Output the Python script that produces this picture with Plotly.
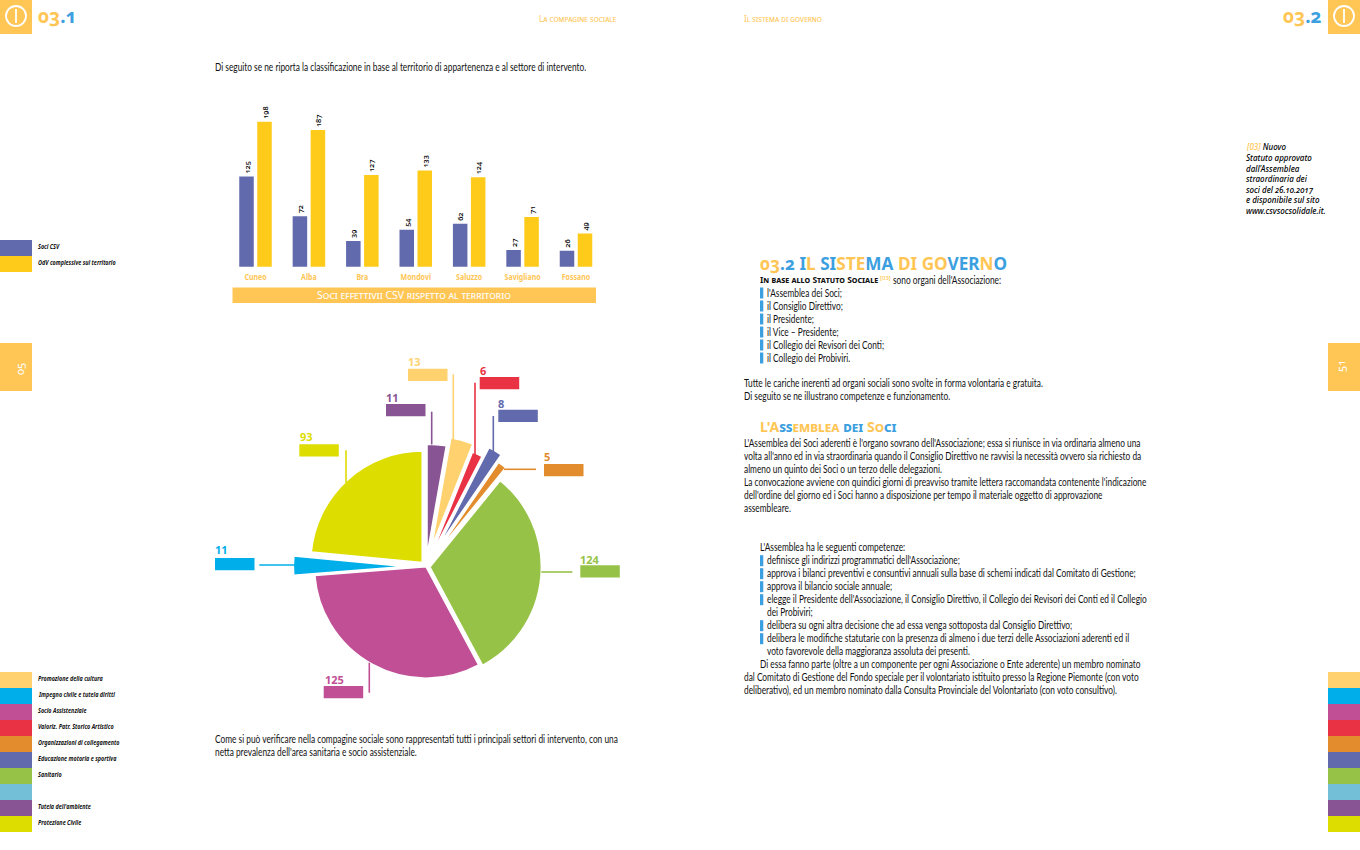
import plotly.graph_objects as go

W, H = 1360, 850
ORANGE = "#ffc656"
SKY = "#3c9fdf"
BODY_FONT = "Lato, sans-serif"
HEAD_FONT = "Noto Sans, sans-serif"
OLD = "font-variant-numeric:oldstyle-nums"

# ---- data ----
territories = ["Cuneo", "Alba", "Bra", "Mondovì", "Saluzzo", "Savigliano", "Fossano"]
soci_csv = [125, 72, 39, 54, 62, 27, 26]
odv_totali = [198, 187, 127, 133, 124, 71, 49]
bar_legend = ["Soci CSV", "OdV complessive sul territorio"]
bar_colors = ["#626aae", "#ffcb1a"]

sector_names = ["Tutela dell'ambiente", "Promozione della cultura", "Valoriz. Patr. Storico Artistico",
                "Educazione motoria e sportiva", "Organizzazioni di collegamento", "Sanitario",
                "Socio Assistenziale", "Impegno civile e tutela diritti", "Protezione Civile"]
sector_values = [11, 13, 6, 8, 5, 124, 125, 11, 93]
sector_colors = ["#895493", "#ffd26f", "#e93244", "#626aae", "#e28c2d", "#96c347", "#c14f96", "#00afe9", "#dedd00"]
sector_pull = [0.10, 0.18, 0.11, 0.21, 0.14, 0.035, 0.0, 0.19, 0.05]

legend_labels = ["Promozione della cultura", "Impegno civile e tutela diritti", "Socio Assistenziale",
                 "Valoriz. Patr. Storico Artistico", "Organizzazioni di collegamento",
                 "Educazione motoria e sportiva", "Sanitario", "", "Tutela dell'ambiente", "Protezione Civile"]
legend_colors = ["#ffd26f", "#00afe9", "#c14f96", "#e93244", "#e28c2d", "#626aae", "#96c347", "#74bfd8", "#895493", "#dedd00"]

# pie call-outs: label x, label y, box x, box y, line (x0, y0, x1, y1)
callouts = [
    (392.7, 397.3, 386, 404, (431.7, 411.7, 431.7, 444.5)),
    (414.3, 361, 408, 368.7, (453.3, 374.3, 453.3, 439.5)),
    (483.3, 370, 479.7, 377, (475, 382.7, 475, 455)),
    (501.3, 403, 498.3, 409.7, (493.3, 416, 493.3, 453.3)),
    (547.3, 457, 544, 464, (504, 469.3, 536, 469.3)),
    (590, 559.3, 580.3, 565.3, (541.3, 572, 572.3, 572)),
    (334, 679, 323.7, 686, (369.3, 662.7, 369.3, 692.7)),
    (221, 549.3, 215, 558, (259.3, 565, 295.7, 565)),
    (306, 436, 299.3, 444.3, (346, 450.3, 346, 482.7)),
]

body_left = [
    (215, 67, "Di seguito se ne riporta la classificazione in base al territorio di appartenenza e al settore di intervento."),
    (215, 739, "Come si può verificare nella compagine sociale sono rappresentati tutti i principali settori di intervento, con una"),
    (215, 752, "netta prevalenza dell'area sanitaria e socio assistenziale."),
]
body_right = [
    (744, 383.5, "Tutte le cariche inerenti ad organi sociali sono svolte in forma volontaria e gratuita."),
    (744, 396.5, "Di seguito se ne illustrano competenze e funzionamento."),
    (744, 443.5, "L'Assemblea dei Soci aderenti è l'organo sovrano dell'Associazione; essa si riunisce in via ordinaria almeno una"),
    (744, 456.5, "volta all'anno ed in via straordinaria quando il Consiglio Direttivo ne ravvisi la necessità ovvero sia richiesto da"),
    (744, 469.5, "almeno un quinto dei Soci o un terzo delle delegazioni."),
    (744, 482.5, "La convocazione avviene con quindici giorni di preavviso tramite lettera raccomandata contenente l'indicazione"),
    (744, 495.5, "dell'ordine del giorno ed i Soci hanno a disposizione per tempo il materiale oggetto di approvazione"),
    (744, 508.5, "assembleare."),
    (760, 547.7, "L'Assemblea ha le seguenti competenze:"),
    (767, 612.7, "dei Probiviri;"),
    (767, 651.7, "voto favorevole della maggioranza assoluta dei presenti."),
    (760, 664.7, "Di essa fanno parte (oltre a un componente per ogni Associazione o Ente aderente) un membro nominato"),
    (744, 677.7, "dal Comitato di Gestione del Fondo speciale per il volontariato istituito presso la Regione Piemonte (con voto"),
    (744, 690.7, "deliberativo), ed un membro nominato dalla Consulta Provinciale del Volontariato (con voto consultivo)."),
    (893, 280, "sono organi dell'Associazione:"),
]
bullets = [
    (293, "l'Assemblea dei Soci;"), (306, "il Consiglio Direttivo;"), (319, "il Presidente;"),
    (332, "il Vice – Presidente;"), (345, "il Collegio dei Revisori dei Conti;"), (358, "il Collegio dei Probiviri."),
    (560.7, "definisce gli indirizzi programmatici dell'Associazione;"),
    (573.7, "approva i bilanci preventivi e consuntivi annuali sulla base di schemi indicati dal Comitato di Gestione;"),
    (586.7, "approva il bilancio sociale annuale;"),
    (599.7, "elegge il Presidente dell'Associazione, il Consiglio Direttivo, il Collegio dei Revisori dei Conti ed il Collegio"),
    (625.7, "delibera su ogni altra decisione che ad essa venga sottoposta dal Consiglio Direttivo;"),
    (638.7, "delibera le modifiche statutarie con la presenza di almeno i due terzi delle Associazioni aderenti ed il"),
]
note_lines = ["<span style='color:#ffc656'>[03]</span> Nuovo", "Statuto approvato", "dall'Assemblea", "straordinaria dei",
              f"soci del <span style='{OLD}'>26.10.2017</span>", "e disponibile sul sito", "www.csvsocsolidale.it."]
note_y = [146.7, 157, 168, 178.5, 189, 199, 210]


def px(x):
    return x / W


def py(y):
    return 1 - y / H


shapes, annotations = [], []


def rect(x0, y0, x1, y1, color):
    shapes.append(dict(type="rect", xref="paper", yref="paper", x0=px(x0), x1=px(x1), y0=py(y0), y1=py(y1),
                       fillcolor=color, line_width=0, layer="below"))


def seg(x0, y0, x1, y1, color, width=1.5):
    shapes.append(dict(type="line", xref="paper", yref="paper", x0=px(x0), x1=px(x1), y0=py(y0), y1=py(y1),
                       line=dict(color=color, width=width)))


def txt(x, y, text, size=10, color="#111111", family=BODY_FONT, anchor="left", angle=0, **font):
    annotations.append(dict(xref="paper", yref="paper", x=px(x), y=py(y), text=text, showarrow=False,
                            xanchor=anchor, yanchor="middle", borderpad=0, borderwidth=0, textangle=angle,
                            font=dict(size=size, color=color, family=family, **font)))


def cspan(pairs):
    return "".join(f"<span style='color:{c};{OLD}'>{t}</span>" for t, c in pairs)


# ---- page furniture ----
for x0 in (0, 1328):
    rect(x0, 0, x0 + 32, 34, ORANGE)
    rect(x0, 343, x0 + 32, 391, ORANGE)
    cx = x0 + 16
    shapes.append(dict(type="circle", xref="paper", yref="paper", x0=px(cx - 10), x1=px(cx + 10),
                       y0=py(26), y1=py(6), line=dict(color="white", width=1.8)))
    seg(cx, 9, cx, 23, "white", 1.8)
    for i, c in enumerate(legend_colors):
        rect(x0, 672 + 16 * i, x0 + 32, 688 + 16 * i, c)
txt(19, 369, f"<span style='{OLD}'>05</span>", 11, "white", HEAD_FONT, "center", -90)
txt(1340, 366, f"<span style='{OLD}'>51</span>", 11, "white", HEAD_FONT, "center", -90)

txt(38, 16, cspan([("03", ORANGE), (".1", SKY)]), 19, family=HEAD_FONT, weight="bold")
txt(1322, 16, cspan([("03", ORANGE), (".2", SKY)]), 19, family=HEAD_FONT, anchor="right", weight="bold")
txt(539, 19, "La compagine sociale", 8, ORANGE, HEAD_FONT, variant="small-caps")
txt(744, 19, "Il sistema di governo", 8, ORANGE, HEAD_FONT, variant="small-caps")

# ---- legends ----
for i, (lab, c) in enumerate(zip(bar_legend, bar_colors)):
    rect(0, 240 + 16 * i, 32, 256 + 16 * i, c)
    txt(38, 246.5 + 16 * i, lab, 6.5, "#111111", HEAD_FONT, style="italic", weight="bold")
for i, lab in enumerate(legend_labels):
    if lab:
        txt(38, 678.5 + 16 * i, lab, 6.5, "#111111", HEAD_FONT, style="italic", weight="bold")

# ---- banner ----
rect(232.5, 287.5, 596, 303, ORANGE)
txt(414, 295, "Soci effettivii CSV rispetto al territorio", 10.5, "white", HEAD_FONT, "center", variant="small-caps")

# ---- pie call-outs ----
for (lx, ly, bx, by, ln), v, c in zip(callouts, sector_values, sector_colors):
    rect(bx, by, bx + 39.5, by + 12.3, c)
    seg(*ln, c, 1.6)
    txt(lx, ly, str(v), 11, c, HEAD_FONT, "center", weight="bold")

# ---- body text ----
for x, y, t in body_left + body_right:
    txt(x, y - 0.8, t, 10.8)
for y, t in bullets:
    rect(760, y - 5.5, 763.3, y + 5.5, SKY)
    txt(767, y - 0.8, t, 10.8)

txt(760, 264, cspan([("03", ORANGE), (".2 ", SKY), ("I", SKY), ("L ", ORANGE), ("SI", SKY), ("STE", ORANGE), ("MA ", SKY),
                     ("DI GO", ORANGE), ("VER", SKY), ("N", ORANGE), ("O", SKY)]),
    17.2, family=HEAD_FONT, weight="bold")
txt(760, 280, "In base allo Statuto Sociale", 8.5, "#111111", HEAD_FONT, variant="small-caps", weight="bold")
txt(880, 278, "[03]", 6, "#ffb92e", HEAD_FONT)
txt(760, 426.5, cspan([("L'A", ORANGE), ("ss", SKY), ("emblea ", ORANGE), ("dei ", SKY), ("So", ORANGE), ("ci", SKY)]),
    14, family=HEAD_FONT, weight="bold", variant="small-caps")
for y, t in zip(note_y, note_lines):
    txt(1246, y, t, 8, "#000000", HEAD_FONT, style="italic", weight=500)

# ---- figure ----
fig = go.Figure()
for name, vals, col in zip(bar_legend, (soci_csv, odv_totali), bar_colors):
    fig.add_trace(go.Bar(name=name, x=territories, y=vals, marker=dict(color=col, line_width=0),
                         text=vals, texttemplate=f"<span style='{OLD}'>%{{text}}</span>",
                         textposition="outside", textangle=-90, cliponaxis=False,
                         textfont=dict(size=7.5, color="#000000", family=HEAD_FONT, weight=500)))

PIE_R = 111.5
PIE_CX, PIE_CY = 426, 566.7
half = PIE_R * (1 + max(sector_pull))
fig.add_trace(go.Pie(labels=sector_names, values=sector_values, sort=False, direction="clockwise", rotation=0,
                     pull=sector_pull, marker=dict(colors=sector_colors, line=dict(color="white", width=1.6)),
                     textinfo="none", hoverinfo="label+value", showlegend=False,
                     domain=dict(x=[px(PIE_CX - half), px(PIE_CX + half)], y=[py(PIE_CY + half), py(PIE_CY - half)])))

CHART_L, CHART_R = 228.8, 602.7
BASE_Y, TOP_Y = 266.7, 120.7
fig.update_layout(
    width=W, height=H, autosize=False, margin=dict(l=0, r=0, t=0, b=0, pad=0),
    paper_bgcolor="white", plot_bgcolor="rgba(0,0,0,0)", showlegend=False,
    barmode="group", bargap=0.326, bargroupgap=0.194,
    xaxis=dict(domain=[px(CHART_L), px(CHART_R)], type="category", showgrid=False, showline=False, ticks="",
               zeroline=False, tickfont=dict(size=8, color=ORANGE, family=HEAD_FONT, weight="bold"), anchor="y",
               ticklabelstandoff=4),
    yaxis=dict(domain=[py(BASE_Y), py(TOP_Y)], range=[4.8, 199.5], visible=False, showgrid=False, zeroline=False, anchor="x"),
    shapes=shapes, annotations=annotations, font=dict(family=BODY_FONT),
)

# The page's typeface is condensed and no condensed face is installed: narrow the glyphs horizontally.
POST = """
document.body.style.margin='0';document.documentElement.style.overflow='hidden';
function narrow(t,f,keepCentre){
  var n=t.getComputedTextLength(),x=parseFloat(t.getAttribute('x'))||0;
  var left=keepCentre?x-n*f/2:x-n/2;
  t.setAttribute('text-anchor','start');t.style.textAnchor='start';t.setAttribute('x',left.toFixed(2));
  t.setAttribute('lengthAdjust','spacingAndGlyphs');t.setAttribute('textLength',(n*f).toFixed(1));
}
document.querySelectorAll('text.annotation-text').forEach(function(t){
  var s=getComputedStyle(t),fs=parseFloat(s.fontSize);
  if(s.fontFamily.indexOf('Lato')>=0){narrow(t,0.77,false);}
  else if(fs==6.5&&s.fontStyle=='italic'){narrow(t,0.84,false);}
});
document.querySelectorAll('.xtick text').forEach(function(t){narrow(t,0.88,true);});
"""
fig.write_html("out.html", post_script=POST, config=dict(displayModeBar=False))
